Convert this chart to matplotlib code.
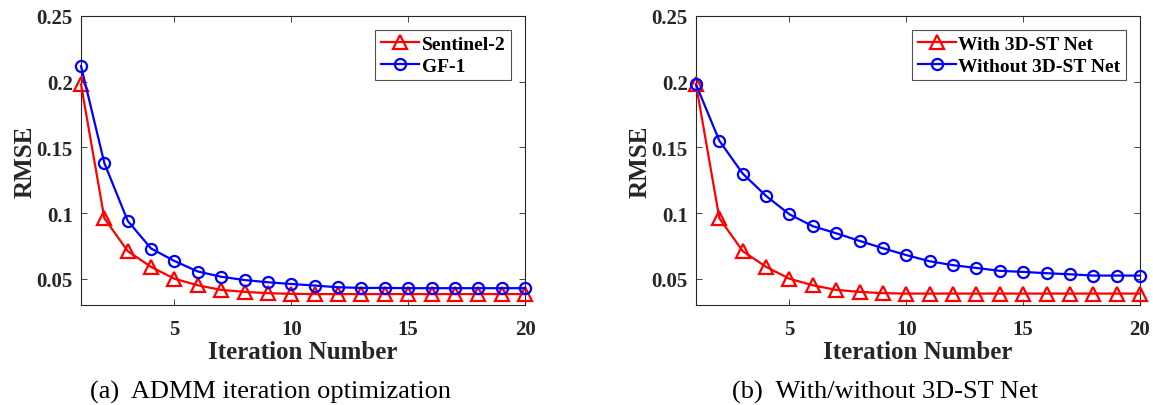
import numpy as np
import matplotlib.pyplot as plt

plt.rcParams['font.family'] = ['Liberation Serif', 'DejaVu Serif']

iters = np.arange(1, 21)

sentinel2 = [0.198, 0.096, 0.071, 0.059, 0.050, 0.045, 0.0415, 0.040, 0.039, 0.0385,
             0.0383, 0.0383, 0.0383, 0.0383, 0.0383, 0.0383, 0.0383, 0.0383, 0.0383, 0.0383]
gf1 = [0.212, 0.138, 0.094, 0.073, 0.0635, 0.0555, 0.0515, 0.049, 0.0473, 0.046,
       0.0448, 0.0435, 0.043, 0.043, 0.0428, 0.0428, 0.0428, 0.0428, 0.0428, 0.0428]

with_net = [0.198, 0.096, 0.071, 0.059, 0.050, 0.045, 0.0415, 0.040, 0.039, 0.0387,
            0.0387, 0.0387, 0.0387, 0.0387, 0.0387, 0.0387, 0.0387, 0.0387, 0.0387, 0.0387]
without_net = [0.198, 0.155, 0.130, 0.113, 0.099, 0.090, 0.0846, 0.0788, 0.0732, 0.068,
               0.0633, 0.0603, 0.0582, 0.056, 0.0552, 0.0542, 0.0534, 0.0524, 0.0524, 0.0524]

fig = plt.figure(figsize=(11.53, 4.06), dpi=100)
ax1 = fig.add_axes([81/1153, 1-306/406, 444/1153, 289/406])
ax2 = fig.add_axes([696/1153, 1-306/406, 444/1153, 289/406])

panels = [
    (ax1, sentinel2, gf1, 'Sentinel-2', 'GF-1', '(a)  ADMM iteration optimization', 271),
    (ax2, with_net, without_net, 'With 3D-ST Net', 'Without 3D-ST Net', '(b)  With/without 3D-ST Net', 885),
]

for ax, red, blue, lr, lb, cap, cx in panels:
    ax.plot(iters, red, '-^', color='red', lw=1.6, ms=9.5, mfc='none', mew=1.6, label=lr, clip_on=False, zorder=3)
    ax.plot(iters, blue, '-o', color='blue', lw=1.6, ms=8, mfc='none', mew=1.6, label=lb, clip_on=False, zorder=3)
    ax.set_xlim(1, 20)
    ax.set_ylim(0.03, 0.25)
    ax.set_xticks([5, 10, 15, 20])
    ax.set_yticks([0.05, 0.1, 0.15, 0.2, 0.25])
    ax.set_yticklabels(['0.05', '0.1', '0.15', '0.2', '0.25'])
    ax.tick_params(direction='in', top=True, right=True, length=4, width=0.6, labelsize=15, colors='#262626')
    ax.tick_params(axis='x', pad=10)
    ax.tick_params(axis='y', pad=6)
    for lab in ax.get_xticklabels() + ax.get_yticklabels():
        lab.set_fontweight('bold')
    for s in ax.spines.values():
        s.set_linewidth(0.8)
        s.set_color('#262626')
    ax.set_xlabel('Iteration Number', fontsize=18, fontweight='bold', labelpad=1, color='#262626')
    ax.set_ylabel('RMSE', fontsize=18, fontweight='bold', labelpad=0, color='#262626')
    leg = ax.legend(loc='upper right', prop={'weight': 'bold', 'size': 14}, fancybox=False,
                    edgecolor='#262626', handlelength=1.95, borderpad=0.3, labelspacing=0.2,
                    handletextpad=0.15, borderaxespad=0.7)
    leg.get_frame().set_linewidth(0.8)
    fig.text(cx/1153, 1-392/406, cap, fontsize=19, ha='center', va='center')

fig.savefig('out.png', dpi=100)
